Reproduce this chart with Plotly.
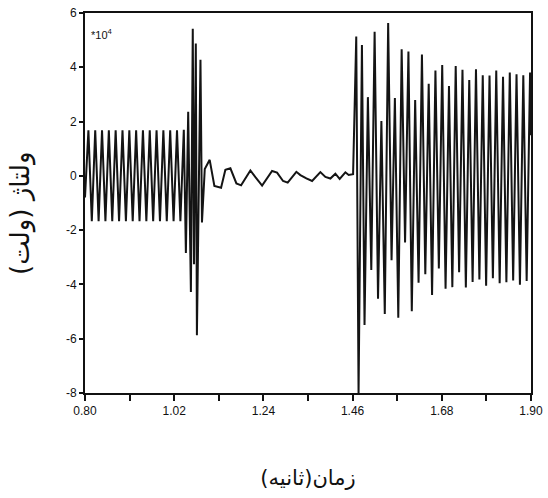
import plotly.graph_objects as go

# Voltage waveform (x10^4 V) against time (s), stored as turning points.

# Pre-fault steady state (about 60 Hz)
t_steady = [0.8000, 0.8084, 0.8168, 0.8252, 0.8336, 0.8420, 0.8504, 0.8588,
            0.8672, 0.8756, 0.8840, 0.8925, 0.9009, 0.9093, 0.9177, 0.9261,
            0.9345, 0.9429, 0.9513, 0.9597, 0.9681, 0.9765, 0.9849, 0.9933,
            1.0017, 1.0101, 1.0185, 1.0269, 1.0353, 1.0437]
v_steady = [-0.80, 1.68, -1.67, 1.68, -1.67, 1.68, -1.67, 1.68,
            -1.67, 1.68, -1.67, 1.68, -1.67, 1.68, -1.67, 1.68,
            -1.67, 1.68, -1.67, 1.68, -1.67, 1.68, -1.67, 1.68,
            -1.67, 1.68, -1.67, 1.68, -1.67, 1.70]

# Transient burst
t_burst = [1.0488, 1.0545, 1.0612, 1.0658, 1.0688, 1.0733, 1.0760, 1.0848, 1.0885]
v_burst = [-2.84, 2.36, -4.28, 5.42, -3.26, 4.88, -5.87, 4.28, -1.72]

# Low-level oscillation while the line is open
t_low = [1.0954, 1.1075, 1.1191, 1.1356, 1.1462, 1.1586, 1.1734, 1.1850,
         1.2079, 1.2203, 1.2368, 1.2614, 1.2737, 1.2885, 1.2999, 1.3213,
         1.3312, 1.3460, 1.3601, 1.3805, 1.3929, 1.4052, 1.4175, 1.4281,
         1.4422, 1.4503, 1.4612]
v_low = [0.25, 0.59, -0.37, -0.44, 0.22, 0.28, -0.28, -0.35,
         0.20, -0.05, -0.36, 0.18, 0.12, -0.19, -0.25, 0.15,
         0.03, -0.09, -0.19, 0.14, -0.04, -0.10, 0.08, -0.11,
         0.13, 0.03, 0.06]

# Reclosing: spike and the following large oscillation
t_reclose = [1.4690, 1.4747, 1.4830, 1.4894, 1.4977, 1.5061, 1.5143, 1.5227,
             1.5310, 1.5394, 1.5477, 1.5561, 1.5643, 1.5727, 1.5810, 1.5894,
             1.5977, 1.6060, 1.6143, 1.6227, 1.6310, 1.6393, 1.6477, 1.6560,
             1.6643, 1.6727, 1.6810, 1.6893, 1.6977, 1.7060, 1.7143, 1.7227,
             1.7310, 1.7393, 1.7477, 1.7560, 1.7643, 1.7727, 1.7810, 1.7893,
             1.7977, 1.8060, 1.8143, 1.8227, 1.8310, 1.8393, 1.8477, 1.8560,
             1.8643, 1.8727, 1.8810, 1.8893, 1.8977, 1.9000]
v_reclose = [5.13, -8.00, 4.82, -5.49, 2.90, -3.47, 5.31, -4.53,
             2.02, -5.09, 5.63, -3.11, 2.87, -5.23, 4.66, -2.45,
             4.58, -4.99, 2.79, -3.94, 4.47, -3.62, 3.39, -4.39,
             3.88, -3.41, 4.08, -4.16, 3.31, -4.10, 4.05, -3.55,
             3.91, -4.11, 3.53, -3.91, 3.93, -3.82, 3.71, -4.05,
             3.70, -3.77, 3.88, -3.96, 3.65, -3.92, 3.81, -3.85,
             3.74, -4.01, 3.71, -3.87, 3.81, 1.50]

# Axis ticks
x_tick_vals = [0.80, 1.02, 1.24, 1.46, 1.68, 1.90]
x_tick_text = ["0.80", "1.02", "1.24", "1.46", "1.68", "1.90"]
x_minor_vals = [0.91, 1.13, 1.35, 1.57, 1.79]
y_tick_vals = [-8, -6, -4, -2, 0, 2, 4, 6]
y_tick_text = ["-8", "-6", "-4", "-2", "0", "2", "4", "6"]

x_title = "زمان(ثانیه)"
y_title = "ولتاژ (ولت)"
scale_note = "*10<sup>4</sup>"

t_all = t_steady + t_burst + t_low + t_reclose
v_all = v_steady + v_burst + v_low + v_reclose

fig = go.Figure()
fig.add_trace(go.Scatter(
    x=t_all, y=v_all, mode="lines",
    line=dict(color="#141414", width=2),
    hoverinfo="skip",
))

ink = "#111111"
tick_font = dict(family="Liberation Sans Narrow, Liberation Sans, Arial, sans-serif",
                 size=12, color=ink)
persian_font = "DejaVu Sans, Noto Sans, sans-serif"

fig.update_xaxes(
    range=[0.80, 1.90], tickmode="array", tickvals=x_tick_vals, ticktext=x_tick_text,
    ticks="outside", ticklen=6, tickwidth=1.5, tickcolor=ink,
    minor=dict(tickmode="array", tickvals=x_minor_vals, ticks="outside",
               ticklen=6, tickwidth=1.5, tickcolor=ink, showgrid=False),
    showline=True, linecolor=ink, linewidth=2, mirror=True,
    showgrid=False, zeroline=False, tickfont=tick_font,
    title=dict(text=x_title, standoff=53, font=dict(family=persian_font, size=21, color=ink)),
)
fig.update_yaxes(
    range=[-8, 6], tickmode="array", tickvals=y_tick_vals, ticktext=y_tick_text,
    ticks="outside", ticklen=4, tickwidth=1.5, tickcolor=ink,
    showline=True, linecolor=ink, linewidth=2, mirror=True,
    showgrid=False, zeroline=False, tickfont=tick_font,
)

fig.update_layout(
    width=548, height=498,
    margin=dict(l=85, r=17, t=13, b=105, autoexpand=False),
    paper_bgcolor="white", plot_bgcolor="white",
    showlegend=False,
    annotations=[
        dict(text=y_title, xref="paper", yref="paper", x=-0.1435, y=0.474,
             xanchor="center", yanchor="middle", showarrow=False, textangle=-90,
             font=dict(family=persian_font, size=26, color=ink)),
        dict(text=scale_note, xref="paper", yref="paper", x=0.008, y=0.945,
             xanchor="left", yanchor="middle", showarrow=False,
             font=dict(family="Liberation Sans, Arial, sans-serif", size=11, color=ink)),
    ],
)

fig.write_html("out.html")
